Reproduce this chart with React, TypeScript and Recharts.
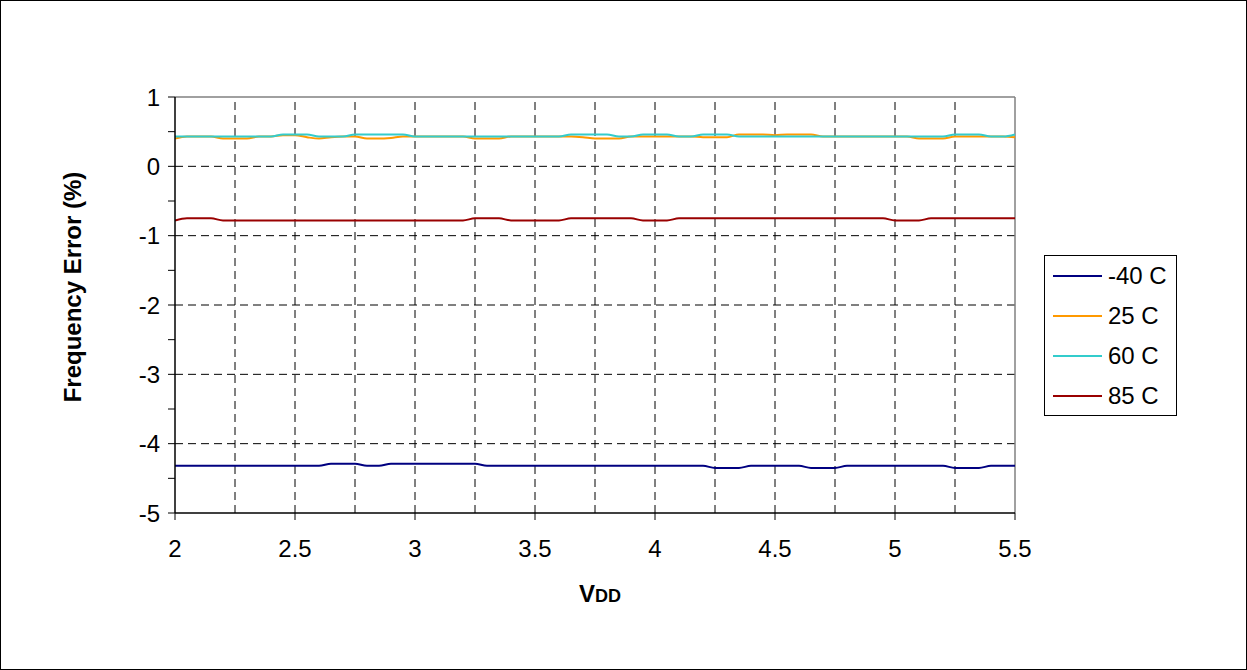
import React from 'react';
import { LineChart, Line, XAxis, YAxis, ReferenceLine, Legend, Label } from 'recharts';

const FONT = '"Liberation Sans", Arial, sans-serif';

const vdd = [
  2.0, 2.05, 2.1, 2.15, 2.2, 2.25, 2.3, 2.35, 2.4, 2.45,
  2.5, 2.55, 2.6, 2.65, 2.7, 2.75, 2.8, 2.85, 2.9, 2.95,
  3.0, 3.05, 3.1, 3.15, 3.2, 3.25, 3.3, 3.35, 3.4, 3.45,
  3.5, 3.55, 3.6, 3.65, 3.7, 3.75, 3.8, 3.85, 3.9, 3.95,
  4.0, 4.05, 4.1, 4.15, 4.2, 4.25, 4.3, 4.35, 4.4, 4.45,
  4.5, 4.55, 4.6, 4.65, 4.7, 4.75, 4.8, 4.85, 4.9, 4.95,
  5.0, 5.05, 5.1, 5.15, 5.2, 5.25, 5.3, 5.35, 5.4, 5.45,
  5.5,
];

const errMinus40C = [
  -4.32, -4.32, -4.32, -4.32, -4.32, -4.32, -4.32, -4.32, -4.32, -4.32,
  -4.32, -4.32, -4.32, -4.29, -4.29, -4.29, -4.32, -4.32, -4.29, -4.29,
  -4.29, -4.29, -4.29, -4.29, -4.29, -4.29, -4.32, -4.32, -4.32, -4.32,
  -4.32, -4.32, -4.32, -4.32, -4.32, -4.32, -4.32, -4.32, -4.32, -4.32,
  -4.32, -4.32, -4.32, -4.32, -4.32, -4.35, -4.35, -4.35, -4.32, -4.32,
  -4.32, -4.32, -4.32, -4.35, -4.35, -4.35, -4.32, -4.32, -4.32, -4.32,
  -4.32, -4.32, -4.32, -4.32, -4.32, -4.35, -4.35, -4.35, -4.32, -4.32,
  -4.32,
];

const err25C = [
  0.40, 0.43, 0.43, 0.43, 0.40, 0.40, 0.40, 0.43, 0.43, 0.45,
  0.45, 0.42, 0.40, 0.42, 0.43, 0.43, 0.40, 0.40, 0.41, 0.43,
  0.43, 0.43, 0.43, 0.43, 0.43, 0.40, 0.40, 0.40, 0.43, 0.43,
  0.43, 0.43, 0.43, 0.43, 0.42, 0.40, 0.40, 0.40, 0.43, 0.43,
  0.43, 0.43, 0.43, 0.43, 0.42, 0.42, 0.42, 0.46, 0.46, 0.46,
  0.45, 0.46, 0.46, 0.46, 0.43, 0.43, 0.43, 0.43, 0.43, 0.43,
  0.43, 0.43, 0.40, 0.40, 0.40, 0.43, 0.43, 0.43, 0.43, 0.43,
  0.42,
];

const err60C = [
  0.43, 0.43, 0.43, 0.43, 0.43, 0.43, 0.43, 0.43, 0.43, 0.46,
  0.46, 0.46, 0.43, 0.43, 0.43, 0.46, 0.46, 0.46, 0.46, 0.46,
  0.43, 0.43, 0.43, 0.43, 0.43, 0.43, 0.43, 0.43, 0.43, 0.43,
  0.43, 0.43, 0.43, 0.46, 0.46, 0.46, 0.46, 0.43, 0.43, 0.46,
  0.46, 0.46, 0.43, 0.43, 0.46, 0.46, 0.46, 0.43, 0.43, 0.43,
  0.43, 0.43, 0.43, 0.43, 0.43, 0.43, 0.43, 0.43, 0.43, 0.43,
  0.43, 0.43, 0.43, 0.43, 0.43, 0.46, 0.46, 0.46, 0.43, 0.43,
  0.46,
];

const err85C = [
  -0.78, -0.75, -0.75, -0.75, -0.78, -0.78, -0.78, -0.78, -0.78, -0.78,
  -0.78, -0.78, -0.78, -0.78, -0.78, -0.78, -0.78, -0.78, -0.78, -0.78,
  -0.78, -0.78, -0.78, -0.78, -0.78, -0.75, -0.75, -0.75, -0.78, -0.78,
  -0.78, -0.78, -0.78, -0.75, -0.75, -0.75, -0.75, -0.75, -0.75, -0.78,
  -0.78, -0.78, -0.75, -0.75, -0.75, -0.75, -0.75, -0.75, -0.75, -0.75,
  -0.75, -0.75, -0.75, -0.75, -0.75, -0.75, -0.75, -0.75, -0.75, -0.75,
  -0.78, -0.78, -0.78, -0.75, -0.75, -0.75, -0.75, -0.75, -0.75, -0.75,
  -0.75,
];

const seriesNames = ['-40 C', '25 C', '60 C', '85 C'];
const seriesKeys = ['m40', 't25', 't60', 't85'];
const seriesColors = ['#000080', '#FF9900', '#33CCCC', '#990000'];

const xTicks = [2, 2.5, 3, 3.5, 4, 4.5, 5, 5.5];
const yTicks = [1, 0.5, 0, -0.5, -1, -1.5, -2, -2.5, -3, -3.5, -4, -4.5, -5];
const xGrid = [2.25, 2.5, 2.75, 3, 3.25, 3.5, 3.75, 4, 4.25, 4.5, 4.75, 5, 5.25];
const yGrid = [0, -1, -2, -3, -4];

const data = vdd.map((v, i) => ({
  vdd: v,
  m40: errMinus40C[i],
  t25: err25C[i],
  t60: err60C[i],
  t85: err85C[i],
}));

const LegendBox = () => (
  <div
    style={{
      width: 133,
      height: 161,
      border: '1px solid #000',
      background: '#fff',
      boxSizing: 'border-box',
      position: 'relative',
      fontFamily: FONT,
    }}
  >
    {seriesNames.map((n, i) => (
      <div
        key={n}
        style={{
          position: 'absolute',
          left: 8,
          top: 20 + i * 40 - 14,
          height: 28,
          display: 'flex',
          alignItems: 'center',
          whiteSpace: 'nowrap',
        }}
      >
        <svg width={49} height={4} style={{ display: 'block' }}>
          <line x1={0} x2={49} y1={2} y2={2} stroke={seriesColors[i]} strokeWidth={2} />
        </svg>
        <span style={{ marginLeft: 6, fontSize: 24, color: '#000', lineHeight: '28px' }}>{n}</span>
      </div>
    ))}
  </div>
);

const YTitle = () => (
  <text
    x={72}
    y={287}
    transform="rotate(-90 72 287)"
    textAnchor="middle"
    dominantBaseline="central"
    fontSize={24}
    fontWeight="bold"
    fontFamily={FONT}
    fill="#000"
  >
    Frequency Error (%)
  </text>
);

const XTitle = () => (
  <text x={600} y={602} textAnchor="middle" fontWeight="bold" fontFamily={FONT} fill="#000">
    <tspan fontSize={24}>V</tspan>
    <tspan fontSize={18}>DD</tspan>
  </text>
);

export default function App() {
  return (
    <div style={{ position: 'absolute', left: 0, top: 0, width: 1247, height: 670, background: '#fff' }}>
      <LineChart
        width={1247}
        height={670}
        data={data}
        margin={{ top: 97, right: 232, left: 0, bottom: 0 }}
      >
        <XAxis
          dataKey="vdd"
          type="number"
          domain={[2, 5.5]}
          ticks={xTicks}
          height={157}
          axisLine={{ stroke: '#000', strokeWidth: 1.5 }}
          tickLine={{ stroke: '#000' }}
          tickSize={7}
          tickMargin={20}
          tick={{ fontSize: 24, fill: '#000', fontFamily: FONT }}
          allowDataOverflow
        >
          <Label content={<XTitle />} />
        </XAxis>
        <YAxis
          type="number"
          domain={[-5, 1]}
          ticks={yTicks}
          width={175}
          axisLine={{ stroke: '#000', strokeWidth: 1.5 }}
          tickLine={{ stroke: '#000' }}
          tickSize={7}
          tickMargin={8}
          tick={{ fontSize: 24, fill: '#000', fontFamily: FONT }}
          tickFormatter={(v: number) => (Number.isInteger(v) ? String(v) : '')}
          interval={0}
          allowDataOverflow
        >
          <Label content={<YTitle />} />
        </YAxis>
        {yGrid.map((g) => (
          <ReferenceLine key={'y' + g} y={g} stroke="#000" strokeDasharray="8 5" strokeWidth={1} />
        ))}
        {xGrid.map((g) => (
          <ReferenceLine key={'x' + g} x={g} stroke="#000" strokeDasharray="8 5" strokeWidth={1} />
        ))}
        <ReferenceLine y={1} stroke="#808080" strokeWidth={1.5} />
        <ReferenceLine x={5.5} stroke="#808080" strokeWidth={1.5} />
        {seriesKeys.map((k, i) => (
          <Line
            key={k}
            dataKey={k}
            name={seriesNames[i]}
            type="monotone"
            stroke={seriesColors[i]}
            strokeWidth={2}
            dot={false}
            activeDot={false}
            isAnimationActive={false}
          />
        ))}
        <Legend
          layout="vertical"
          align="center"
          verticalAlign="middle"
          content={<LegendBox />}
          wrapperStyle={{ left: 1044, top: 255, width: 133, height: 161 }}
        />
      </LineChart>
      <div
        style={{
          position: 'absolute',
          left: 0,
          top: 0,
          width: 1247,
          height: 670,
          border: '1px solid #000',
          boxSizing: 'border-box',
          pointerEvents: 'none',
        }}
      />
    </div>
  );
}
